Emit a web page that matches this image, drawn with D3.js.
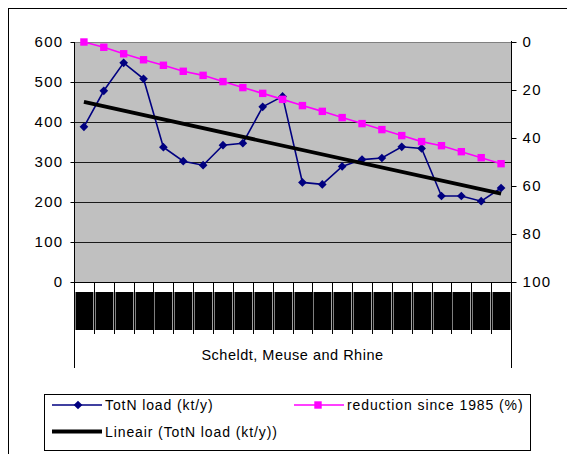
<!DOCTYPE html>
<html>
<head>
<meta charset="utf-8">
<script src="https://cdn.jsdelivr.net/npm/d3@7"></script>
<style>
  html, body { margin: 0; padding: 0; background: #fff; }
  svg { display: block; font-family: "Liberation Sans", Arial, sans-serif; }
</style>
</head>
<body>
<svg id="chart" width="567" height="454"></svg>
<script>
// Chart data
const years = ['1985', '1986', '1987', '1988', '1989', '1990', '1991', '1992', '1993', '1994', '1995',
               '1996', '1997', '1998', '1999', '2000', '2001', '2002', '2003', '2004', '2005', '2006'];
const totNLoad = [388, 478, 548, 508, 337, 302, 292, 342, 347, 438, 464,
                  249, 244, 289, 306, 310, 338, 334, 215, 215, 202, 235];
const reduction = [0, 2.2, 4.9, 7.4, 9.7, 12.2, 13.9, 16.5, 19, 21.4, 23.9,
                   26.5, 28.9, 31.5, 34, 36.5, 39, 41.5, 43.2, 45.7, 48.2, 50.7];
const leftTicks = [0, 100, 200, 300, 400, 500, 600];
const rightTicks = [0, 20, 40, 60, 80, 100];
const groupLabel = 'Scheldt, Meuse and Rhine';
const legendLabels = ['TotN load (kt/y)', 'reduction since 1985 (%)', 'Lineair (TotN load (kt/y))'];

const svg = d3.select('#chart');

// plot area
const plotLeft = 74, plotRight = 511, plotTop = 42, plotBottom = 282;

const x = d3.scaleBand().domain(years).range([plotLeft, plotRight]);
const y = d3.scaleLinear().domain([0, 600]).range([plotBottom, plotTop]);
const y2 = d3.scaleLinear().domain([0, 100]).range([plotTop, plotBottom]);
const cx = d => x(d) + x.bandwidth() / 2;

// outer chart border (right and bottom run off the page)
svg.append('rect')
    .attr('x', 8.5).attr('y', 8.5)
    .attr('width', 700).attr('height', 600)
    .attr('fill', 'none').attr('stroke', '#000');

// plot background
svg.append('rect')
    .attr('x', plotLeft).attr('y', plotTop)
    .attr('width', plotRight - plotLeft).attr('height', plotBottom - plotTop)
    .attr('fill', '#c0c0c0');

// gridlines
svg.append('g')
    .selectAll('line')
    .data(leftTicks.filter(t => t > 0 && t < 600))
    .join('line')
    .attr('x1', plotLeft).attr('x2', plotRight)
    .attr('y1', d => Math.round(y(d)) + 0.5).attr('y2', d => Math.round(y(d)) + 0.5)
    .attr('stroke', '#1a1a1a');

svg.append('line')
    .attr('x1', plotLeft).attr('x2', plotRight)
    .attr('y1', plotTop + 0.5).attr('y2', plotTop + 0.5)
    .attr('stroke', '#808080');

// left axis
const yAxis = svg.append('g')
    .attr('transform', `translate(${plotLeft + 0.5},0)`)
    .call(d3.axisLeft(y).tickValues(leftTicks).tickSize(4).tickPadding(7));
yAxis.select('.domain').remove();
yAxis.selectAll('text')
    .attr('font-size', 15).attr('letter-spacing', 1.3)
    .attr('font-family', '"Liberation Sans", Arial, sans-serif').attr('fill', '#000');

// right axis
const y2Axis = svg.append('g')
    .attr('transform', `translate(${plotRight + 0.5},0)`)
    .call(d3.axisRight(y2).tickValues(rightTicks).tickSize(5).tickPadding(6));
y2Axis.select('.domain').remove();
y2Axis.selectAll('text')
    .attr('font-size', 15).attr('letter-spacing', 1.3)
    .attr('font-family', '"Liberation Sans", Arial, sans-serif').attr('fill', '#000');

// axis lines, extended down as the group bracket
svg.append('line')
    .attr('x1', plotLeft + 0.5).attr('x2', plotLeft + 0.5)
    .attr('y1', plotTop).attr('y2', 368).attr('stroke', '#000');
svg.append('line')
    .attr('x1', plotRight + 0.5).attr('x2', plotRight + 0.5)
    .attr('y1', plotTop - 1).attr('y2', 368).attr('stroke', '#000');
svg.append('line')
    .attr('x1', plotLeft).attr('x2', plotRight + 1)
    .attr('y1', plotBottom + 0.5).attr('y2', plotBottom + 0.5).attr('stroke', '#000');

// category ticks between years
svg.append('g')
    .selectAll('line')
    .data(years.slice(1))
    .join('line')
    .attr('x1', d => Math.round(x(d)) + 0.5).attr('x2', d => Math.round(x(d)) + 0.5)
    .attr('y1', plotBottom).attr('y2', 334)
    .attr('stroke', '#000');

// year labels (rendered as solid black blocks, as in the original)
const labels = svg.append('g')
    .selectAll('g')
    .data(years)
    .join('g');
labels.append('rect')
    .attr('x', d => Math.round(x(d)) + 1.5)
    .attr('y', 292)
    .attr('width', x.bandwidth() - 2)
    .attr('height', 38)
    .attr('fill', '#000');
labels.append('text')
    .attr('transform', d => `translate(${cx(d) + 5},326) rotate(-90)`)
    .attr('font-size', 14)
    .attr('fill', '#000')
    .text(d => d);

// group label
svg.append('text')
    .attr('x', (plotLeft + plotRight) / 2).attr('y', 360)
    .attr('text-anchor', 'middle')
    .attr('font-size', 14.5).attr('letter-spacing', 0.5)
    .text(groupLabel);

// TotN load series
const lineLoad = d3.line().x((d, i) => cx(years[i])).y(d => y(d));
svg.append('path')
    .datum(totNLoad)
    .attr('d', lineLoad)
    .attr('fill', 'none').attr('stroke', '#000080').attr('stroke-width', 1.6);

const diamond = d3.symbol().type(d3.symbolDiamond2).size(48);
svg.append('g')
    .selectAll('path')
    .data(totNLoad)
    .join('path')
    .attr('transform', (d, i) => `translate(${cx(years[i])},${y(d)})`)
    .attr('d', diamond)
    .attr('fill', '#000080');

// reduction series
const lineRed = d3.line().x((d, i) => cx(years[i])).y(d => y2(d));
svg.append('path')
    .datum(reduction)
    .attr('d', lineRed)
    .attr('fill', 'none').attr('stroke', '#ff00ff').attr('stroke-width', 1.6);

svg.append('g')
    .selectAll('rect')
    .data(reduction)
    .join('rect')
    .attr('x', (d, i) => cx(years[i]) - 3.7)
    .attr('y', d => y2(d) - 3.7)
    .attr('width', 7.4).attr('height', 7.4)
    .attr('fill', '#ff00ff');

// linear trendline of TotN load
const n = totNLoad.length;
const idx = d3.range(n);
const mx = d3.mean(idx), my = d3.mean(totNLoad);
const slope = d3.sum(idx, i => (i - mx) * (totNLoad[i] - my)) / d3.sum(idx, i => (i - mx) * (i - mx));
const icpt = my - slope * mx;
svg.append('line')
    .attr('x1', cx(years[0])).attr('y1', y(icpt))
    .attr('x2', cx(years[n - 1])).attr('y2', y(icpt + slope * (n - 1)))
    .attr('stroke', '#000').attr('stroke-width', 3.8);

// legend
const legend = svg.append('g');
legend.append('rect')
    .attr('x', 44.5).attr('y', 394.5)
    .attr('width', 486).attr('height', 56)
    .attr('fill', '#fff').attr('stroke', '#000');

const items = [
  { label: legendLabels[0], x: 52, y: 405, color: '#000080', width: 1.6, mark: 'diamond' },
  { label: legendLabels[1], x: 294, y: 405, color: '#ff00ff', width: 1.6, mark: 'square' },
  { label: legendLabels[2], x: 52, y: 431.5, color: '#000', width: 3.8, mark: null }
];
items.forEach(it => {
  legend.append('line')
      .attr('x1', it.x).attr('x2', it.x + 50)
      .attr('y1', it.y).attr('y2', it.y)
      .attr('stroke', it.color).attr('stroke-width', it.width);
  if (it.mark === 'diamond') {
    legend.append('path')
        .attr('transform', `translate(${it.x + 26},${it.y})`)
        .attr('d', diamond).attr('fill', it.color);
  } else if (it.mark === 'square') {
    legend.append('rect')
        .attr('x', it.x + 24 - 3.7).attr('y', it.y - 3.7)
        .attr('width', 7.4).attr('height', 7.4)
        .attr('fill', it.color);
  }
  legend.append('text')
      .attr('x', it.x + 53).attr('y', it.y + 5)
      .attr('font-size', 14).attr('letter-spacing', 0.9)
      .text(it.label);
});
</script>
</body>
</html>
